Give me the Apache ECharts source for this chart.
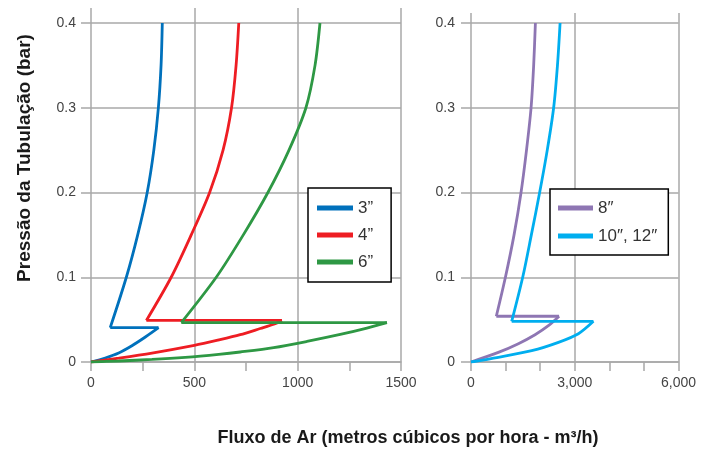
<!DOCTYPE html>
<html>
<head>
<meta charset="utf-8">
<script src="https://cdn.jsdelivr.net/npm/echarts@6/dist/echarts.min.js"></script>
<style>
  html, body { margin: 0; padding: 0; background: #fff; }
  #chart { width: 710px; height: 452px; }
</style>
</head>
<body>
<div id="chart"></div>
<script>
// curves: [flow m3/h, pressure bar]
// each diameter = lower branch (0 -> peak), then a flat jump back, then upper branch (knee -> 0.4)
const names = ["3”", "4”", "6”", "8″", "10″, 12″"];
const flow3Low = [[0, 0], [69, 0.0047], [134, 0.0106], [198, 0.0192], [263, 0.0295], [327, 0.0405]];
const flow3Up = [[93, 0.0405], [171, 0.1], [226, 0.15], [272, 0.2], [304, 0.25], [326, 0.3], [339, 0.35], [345, 0.4]];
const flow4Low = [[0, 0], [134, 0.0045], [295, 0.0105], [500, 0.0196], [618, 0.026], [722, 0.0322], [819, 0.0395], [884, 0.0445], [924, 0.049]];
const flow4Up = [[268, 0.049], [388, 0.1], [485, 0.15], [574, 0.2], [639, 0.25], [680, 0.3], [702, 0.35], [715, 0.4]];
const flow6Low = [[0, 0], [134, 0.0012], [295, 0.003], [456, 0.0055], [618, 0.009], [722, 0.0118], [884, 0.017], [1045, 0.0243], [1206, 0.0325], [1335, 0.04], [1432, 0.0465]];
const flow6Up = [[437, 0.0465], [606, 0.1], [737, 0.15], [856, 0.2], [958, 0.25], [1040, 0.3], [1084, 0.35], [1108, 0.4]];
const flow8Low = [[0, 0], [791, 0.0113], [1370, 0.0216], [1852, 0.0322], [2238, 0.0428], [2547, 0.054]];
const flow8Up = [[732, 0.054], [995, 0.1], [1245, 0.15], [1447, 0.2], [1605, 0.25], [1737, 0.3], [1812, 0.35], [1862, 0.4]];
const flow10Low = [[0, 0], [791, 0.0055], [1756, 0.0133], [2528, 0.0232], [3106, 0.0334], [3540, 0.048]];
const flow10Up = [[1177, 0.048], [1495, 0.1], [1745, 0.15], [1985, 0.2], [2205, 0.25], [2390, 0.3], [2500, 0.35], [2576, 0.4]];

const colors = ["#0071bc", "#ee1d23", "#2e9844", "#8e76b3", "#00aeef"];
const gridGray = "#a8a8a8";
const labelColor = "#444";

function curve(name, color, low, up, xIdx, yIdx) {
  // horizontal jump joins peak of the lower branch and the knee of the upper one
  let flat = [low[low.length - 1], up[0]];
  let base = {
    name: name,
    type: "line",
    xAxisIndex: xIdx,
    yAxisIndex: yIdx,
    color: color,
    showSymbol: false,
    symbol: "none",
    lineStyle: { width: 2.8, color: color },
    animation: false
  };
  return [
    Object.assign({}, base, { data: low, smooth: 0.3 }),
    Object.assign({}, base, { data: flat }),
    Object.assign({}, base, { data: up, smooth: 0.3 })
  ];
}

function frameX(idx, max, step, minor, fmt) {
  return {
    gridIndex: idx,
    type: "value",
    min: 0,
    max: max,
    interval: step,
    axisLine: { show: true, lineStyle: { color: gridGray, width: 1.5 } },
    axisTick: { show: true, length: 9, lineStyle: { color: gridGray, width: 1.5 } },
    minorTick: { show: true, splitNumber: minor, length: 9, lineStyle: { color: gridGray, width: 1.5 } },
    splitLine: { show: true, lineStyle: { color: gridGray, width: 1.5 } },
    axisLabel: { color: labelColor, fontSize: 14, fontFamily: "Liberation Sans", margin: 14, formatter: fmt }
  };
}

function mainY(idx, margin) {
  return {
    gridIndex: idx,
    type: "value",
    min: 0,
    max: 0.4,
    interval: 0.1,
    axisLine: { show: false },
    axisTick: { show: true, length: 10, lineStyle: { color: gridGray, width: 1.5 } },
    splitLine: { show: true, lineStyle: { color: gridGray, width: 1.5 } },
    axisLabel: { color: labelColor, fontSize: 14, fontFamily: "Liberation Sans", margin: margin }
  };
}

let myChart = echarts.init(document.getElementById("chart"));
let option = {
  animation: false,
  grid: [
    { left: 91, top: 23, width: 310, height: 339, containLabel: false },
    { left: 91, top: 8, width: 310, height: 354, containLabel: false },
    { left: 471, top: 23, width: 207.5, height: 339, containLabel: false },
    { left: 471, top: 13, width: 207.5, height: 349, containLabel: false }
  ],
  xAxis: [
    { gridIndex: 0, type: "value", min: 0, max: 1500, show: false },
    frameX(1, 1500, 500, 2, v => String(v)),
    { gridIndex: 2, type: "value", min: 0, max: 6000, show: false },
    frameX(3, 6000, 3000, 3, v => v.toLocaleString("en-US"))
  ],
  yAxis: [
    mainY(0, 15),
    { gridIndex: 1, type: "value", min: 0, max: 1, show: false },
    mainY(2, 16),
    { gridIndex: 3, type: "value", min: 0, max: 1, show: false }
  ],
  legend: [
    {
      data: names.slice(0, 3),
      orient: "vertical",
      left: 308,
      top: 188,
      icon: "rect",
      itemWidth: 36,
      itemHeight: 5,
      itemGap: 9,
      padding: [11, 18, 11, 9],
      borderColor: "#000",
      borderWidth: 1.5,
      backgroundColor: "#fff",
      textStyle: { color: "#333", fontSize: 17, fontFamily: "Liberation Sans", lineHeight: 18 }
    },
    {
      data: names.slice(3),
      orient: "vertical",
      left: 550,
      top: 189,
      icon: "rect",
      itemWidth: 35,
      itemHeight: 5,
      itemGap: 10,
      padding: [10, 11, 10, 8],
      borderColor: "#000",
      borderWidth: 1.5,
      backgroundColor: "#fff",
      textStyle: { color: "#333", fontSize: 17, fontFamily: "Liberation Sans", lineHeight: 18 }
    }
  ],
  graphic: [
    {
      type: "text",
      x: 25,
      y: 158,
      rotation: Math.PI / 2,
      style: {
        text: "Pressão da Tubulação (bar)",
        align: "center",
        verticalAlign: "middle",
        fill: "#1a1a1a",
        font: "bold 19px 'Liberation Sans'"
      }
    },
    {
      type: "text",
      x: 408,
      y: 438,
      style: {
        text: "Fluxo de Ar (metros cúbicos por hora - m³/h)",
        align: "center",
        verticalAlign: "middle",
        fill: "#1a1a1a",
        font: "bold 18px 'Liberation Sans'"
      }
    }
  ],
  series: [].concat(
    curve(names[0], colors[0], flow3Low, flow3Up, 0, 0),
    curve(names[1], colors[1], flow4Low, flow4Up, 0, 0),
    curve(names[2], colors[2], flow6Low, flow6Up, 0, 0),
    curve(names[3], colors[3], flow8Low, flow8Up, 2, 2),
    curve(names[4], colors[4], flow10Low, flow10Up, 2, 2)
  )
};
myChart.setOption(option);
</script>
</body>
</html>
